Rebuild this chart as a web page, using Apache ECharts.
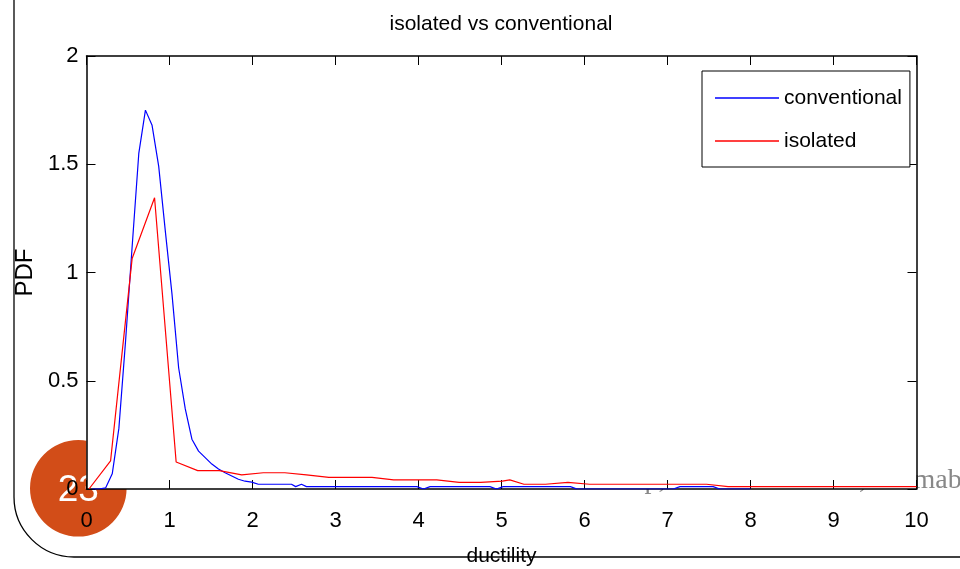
<!DOCTYPE html>
<html>
<head>
<meta charset="utf-8">
<script src="https://cdn.jsdelivr.net/npm/echarts@6/dist/echarts.min.js"></script>
<style>
html,body{margin:0;padding:0;background:#fff;}
#c{width:960px;height:569px;}
</style>
</head>
<body>
<div id="c"></div>
<script>
// ---- data ----
var titleText = 'isolated vs conventional';
var xName = 'ductility';
var yName = 'PDF';
var seriesNames = ['conventional', 'isolated'];

var convX = [0.07, 0.15, 0.23, 0.31, 0.39, 0.47, 0.55, 0.63, 0.71, 0.79, 0.87, 0.95, 1.03, 1.11, 1.19, 1.27, 1.35, 1.43, 1.51, 1.59, 1.67, 1.75, 1.83, 1.91, 1.99, 2.07, 2.47, 2.52, 2.59, 2.65, 3.98, 4.06, 4.14, 4.86, 4.94, 5.02, 5.83, 5.91, 7.07, 7.15, 7.55, 7.63, 8.0];
var convY = [0.0, 0.0, 0.005, 0.07, 0.28, 0.68, 1.12, 1.55, 1.75, 1.68, 1.49, 1.19, 0.90, 0.56, 0.37, 0.23, 0.175, 0.145, 0.115, 0.092, 0.075, 0.06, 0.045, 0.036, 0.032, 0.022, 0.022, 0.011, 0.022, 0.011, 0.011, 0.0, 0.011, 0.011, 0.0, 0.011, 0.011, 0.0, 0.0, 0.011, 0.011, 0.0, 0.0];

var isoX = [0.03, 0.29, 0.55, 0.82, 1.08, 1.34, 1.60, 1.87, 2.13, 2.39, 2.65, 2.92, 3.18, 3.44, 3.70, 3.96, 4.22, 4.49, 4.75, 5.01, 5.10, 5.27, 5.53, 5.80, 6.06, 6.32, 7.47, 7.73, 10.0];
var isoY = [0.0, 0.13, 1.065, 1.345, 0.125, 0.085, 0.085, 0.065, 0.075, 0.075, 0.065, 0.054, 0.054, 0.054, 0.042, 0.042, 0.042, 0.031, 0.031, 0.036, 0.042, 0.022, 0.022, 0.031, 0.022, 0.022, 0.022, 0.011, 0.011];

var xTicks = {min: 0, max: 10, interval: 1};
var yTicks = {min: 0, max: 2, interval: 0.5};

var slideNumber = '23';
var footerText = 'International Seminar on Seismic Isolation: Workshop, 26-27 June 2013, Islamabad';
var footerVisiblePrefix = 'International Seminar on Seismic Isolation: Workshop, 26-27 June 2013, Isla';

// ---- layout / build ----
var SANS = "'Liberation Sans',Arial,sans-serif";
var G = {left: 86.5, top: 56, width: 830, height: 433};
function pairs(xs, ys){ var o=[]; for (var i=0;i<xs.length;i++) o.push([xs[i], ys[i]]); return o; }

var ctx = document.createElement('canvas').getContext('2d');
ctx.font = "28px 'Liberation Serif'";
var footerX = 913.5 - ctx.measureText(footerVisiblePrefix).width;

var axisLine = {show: true, onZero: false, lineStyle: {color: '#000', width: 1.5}};
var tick = {show: true, inside: true, length: 9, lineStyle: {color: '#000', width: 1}};

var chart = echarts.init(document.getElementById('c'), null, {renderer: 'canvas'});
chart.setOption({
  backgroundColor: '#fff',
  animation: false,
  title: {
    text: titleText, left: 501, top: 14, textAlign: 'center', padding: 0,
    textStyle: {fontFamily: SANS, fontSize: 21, fontWeight: 'normal', color: '#000'}
  },
  graphic: [
    {type: 'polyline', z: -5, silent: true, shape: {points: [[14, 0], [14, 497]]},
     style: {stroke: '#000', lineWidth: 1.3, fill: null}},
    {type: 'bezierCurve', z: -5, silent: true,
     shape: {x1: 14, y1: 497, cpx1: 14, cpy1: 530, cpx2: 41, cpy2: 557, x2: 74, y2: 557},
     style: {stroke: '#000', lineWidth: 1.3, fill: null}},
    {type: 'polyline', z: -5, silent: true, shape: {points: [[74, 557], [960, 557]]},
     style: {stroke: '#000', lineWidth: 1.3, fill: null}},
    {type: 'text', z: -5, silent: true, x: footerX, y: 481,
     style: {text: footerText, font: "28px 'Liberation Serif'", fill: '#888', verticalAlign: 'middle'}},
    {type: 'circle', z: -4, silent: true, shape: {cx: 78.3, cy: 488.3, r: 48.3}, style: {fill: '#d24d18'}},
    {type: 'text', z: -3, silent: true, x: 78.3, y: 491,
     style: {text: slideNumber, font: "37px 'Liberation Sans'", fill: '#fff', align: 'center', verticalAlign: 'middle'}},
    {type: 'rect', z: -2, silent: true, shape: {x: G.left, y: G.top, width: G.width, height: G.height}, style: {fill: '#fff'}}
  ],
  grid: {left: G.left, top: G.top, width: G.width, height: G.height, show: false, outerBoundsMode: 'none', containLabel: false},
  legend: {
    data: seriesNames, orient: 'vertical', left: 702, top: 71,
    padding: [15, 8, 14, 13], itemGap: 19, itemWidth: 64, itemHeight: 1.5, icon: 'rect',
    borderColor: '#000', borderWidth: 1, backgroundColor: '#fff', borderRadius: 0,
    textStyle: {fontFamily: SANS, fontSize: 21, color: '#000', lineHeight: 24}
  },
  xAxis: [
    {type: 'value', min: xTicks.min, max: xTicks.max, interval: xTicks.interval,
     name: xName, nameLocation: 'middle', nameGap: 57,
     nameTextStyle: {fontFamily: SANS, fontSize: 21, color: '#000'},
     axisLine: axisLine, axisTick: tick, splitLine: {show: false},
     axisLabel: {fontFamily: SANS, fontSize: 22, color: '#000', margin: 21}},
    {type: 'value', position: 'top', min: xTicks.min, max: xTicks.max, interval: xTicks.interval,
     axisLine: axisLine, axisTick: tick, splitLine: {show: false}, axisLabel: {show: false}}
  ],
  yAxis: [
    {type: 'value', min: yTicks.min, max: yTicks.max, interval: yTicks.interval,
     name: yName, nameLocation: 'middle', nameGap: 47, nameRotate: 90,
     nameTextStyle: {fontFamily: SANS, fontSize: 24, color: '#000'},
     axisLine: axisLine, axisTick: tick, splitLine: {show: false},
     axisLabel: {fontFamily: SANS, fontSize: 22, color: '#000', margin: 8}},
    {type: 'value', position: 'right', min: yTicks.min, max: yTicks.max, interval: yTicks.interval,
     axisLine: axisLine, axisTick: tick, splitLine: {show: false}, axisLabel: {show: false}}
  ],
  series: [
    {name: seriesNames[0], type: 'line', data: pairs(convX, convY), showSymbol: false, symbol: 'none',
     lineStyle: {color: '#0000ff', width: 1.2}, itemStyle: {color: '#0000ff'}, z: 3},
    {name: seriesNames[1], type: 'line', data: pairs(isoX, isoY), showSymbol: false, symbol: 'none',
     lineStyle: {color: '#ff0000', width: 1.2}, itemStyle: {color: '#ff0000'}, z: 4}
  ]
});
</script>
</body>
</html>
